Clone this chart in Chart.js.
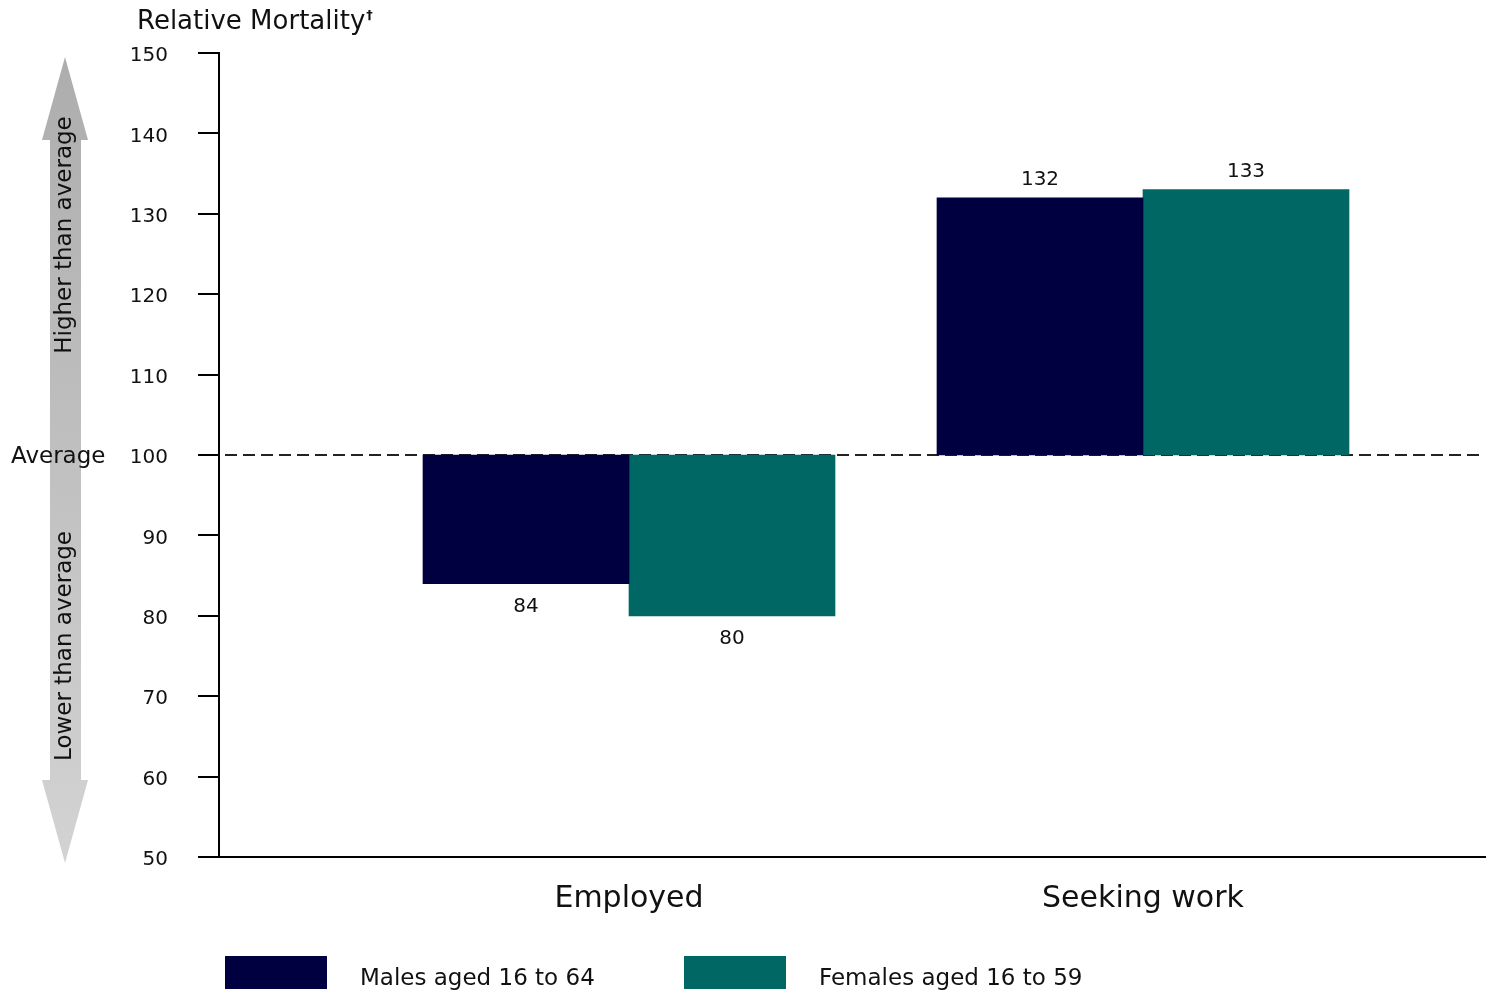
<!DOCTYPE html>
<html>
<head>
<meta charset="utf-8">
<script src="https://cdn.jsdelivr.net/npm/chart.js@4/dist/chart.umd.min.js"></script>
<style>
  html, body { margin: 0; padding: 0; background: #fff; }
  #wrap { width: 1493px; height: 993px; position: relative; }
</style>
</head>
<body>
<div id="wrap"><canvas id="mortalityChart"></canvas></div>
<script>
const CATEGORIES = ["Employed", "Seeking work"];
const MALES = [84, 132];
const FEMALES = [80, 133];
const BASELINE = 100;
const SERIES_LABELS = ["Males aged 16 to 64", "Females aged 16 to 59"];
const SERIES_COLORS = ["#000040", "#006764"];
const Y_MIN = 50;
const Y_MAX = 150;
const Y_STEP = 10;

const FONT = "'DejaVu Sans', sans-serif";

function toFloating(values) {
  return values.map((v, i) => ({ x: i, y: [BASELINE, v] }));
}

// arrow, title, average label and legend
const decorPlugin = {
  id: "decor",
  beforeDraw(chart) {
    const { ctx } = chart;
    const y = chart.scales.y;
    const top = y.getPixelForValue(Y_MAX) + 4;
    const bottom = y.getPixelForValue(Y_MIN) + 6;
    const cx = 65;

    ctx.save();
    const grad = ctx.createLinearGradient(0, top, 0, bottom);
    grad.addColorStop(0, "#adadad");
    grad.addColorStop(1, "#d3d3d3");
    ctx.fillStyle = grad;
    ctx.beginPath();
    ctx.moveTo(cx, top);
    ctx.lineTo(cx + 23, top + 83);
    ctx.lineTo(cx + 16, top + 83);
    ctx.lineTo(cx + 16, bottom - 83);
    ctx.lineTo(cx + 23, bottom - 83);
    ctx.lineTo(cx, bottom);
    ctx.lineTo(cx - 23, bottom - 83);
    ctx.lineTo(cx - 15, bottom - 83);
    ctx.lineTo(cx - 15, top + 83);
    ctx.lineTo(cx - 23, top + 83);
    ctx.closePath();
    ctx.fill();

    ctx.fillStyle = "#111";
    ctx.font = "23px " + FONT;
    ctx.textAlign = "center";
    ctx.textBaseline = "middle";
    ctx.save();
    ctx.translate(cx, 235);
    ctx.rotate(-Math.PI / 2);
    ctx.fillText("Higher than average", 0, 0);
    ctx.restore();
    ctx.save();
    ctx.translate(cx, 646);
    ctx.rotate(-Math.PI / 2);
    ctx.fillText("Lower than average", 0, 0);
    ctx.restore();

    ctx.textAlign = "left";
    ctx.fillText("Average", 11, y.getPixelForValue(BASELINE) + 2);

    // axis title
    ctx.font = "26px " + FONT;
    ctx.fillText("Relative Mortality", 137, 22);
    const w = ctx.measureText("Relative Mortality").width;
    ctx.font = "bold 13px " + FONT;
    ctx.fillText("\u2020", 137 + w + 1, 16);

    // legend
    const legendX = [225, 684];
    ctx.font = "23px " + FONT;
    chart.data.datasets.forEach((ds, i) => {
      ctx.fillStyle = ds.backgroundColor;
      ctx.fillRect(legendX[i], 956, 102, 33);
      ctx.fillStyle = "#111";
      ctx.fillText(ds.label, legendX[i] + 135, 979);
    });
    ctx.restore();
  },
  beforeDatasetsDraw(chart) {
    const { ctx, chartArea } = chart;
    const yy = chart.scales.y.getPixelForValue(BASELINE);
    ctx.save();
    ctx.strokeStyle = "#222";
    ctx.lineWidth = 2;
    ctx.setLineDash([12, 6]);
    ctx.beginPath();
    ctx.moveTo(chartArea.left + 6, yy);
    ctx.lineTo(chartArea.right, yy);
    ctx.stroke();
    ctx.restore();
  },
  afterDatasetsDraw(chart) {
    const { ctx } = chart;
    ctx.save();
    ctx.font = "20px " + FONT;
    ctx.fillStyle = "#111";
    ctx.textAlign = "center";
    ctx.textBaseline = "middle";
    chart.data.datasets.forEach((ds, di) => {
      const values = di === 0 ? MALES : FEMALES;
      chart.getDatasetMeta(di).data.forEach((bar, i) => {
        const v = values[i];
        const ty = v >= BASELINE
          ? Math.min(bar.y, bar.base) - 18
          : Math.max(bar.y, bar.base) + 23;
        ctx.fillText(String(v), bar.x, ty);
      });
    });
    ctx.restore();
  }
};

new Chart(document.getElementById("mortalityChart"), {
  type: "bar",
  data: {
    datasets: [
      {
        label: SERIES_LABELS[0],
        data: toFloating(MALES),
        backgroundColor: SERIES_COLORS[0],
        borderWidth: 0,
        barThickness: 206
      },
      {
        label: SERIES_LABELS[1],
        data: toFloating(FEMALES),
        backgroundColor: SERIES_COLORS[1],
        borderWidth: 0,
        barThickness: 206
      }
    ]
  },
  options: {
    responsive: true,
    maintainAspectRatio: false,
    animation: false,
    layout: { padding: { top: 53, right: 8, left: 0, bottom: 0 } },
    plugins: {
      legend: { display: false },
      tooltip: { enabled: false }
    },
    scales: {
      x: {
        type: "linear",
        offset: false,
        min: -0.7977,
        max: 1.6654,
        afterBuildTicks: (scale) => {
          scale.ticks = CATEGORIES.map((c, i) => ({ value: i }));
        },
        afterFit: (scale) => { scale.height = 136; },
        ticks: {
          callback: (v) => CATEGORIES[v],
          color: "#111",
          font: { family: FONT, size: 30 },
          padding: 16,
          maxRotation: 0,
          autoSkip: false
        },
        grid: { display: false, offset: false },
        border: { display: true, color: "#000", width: 2 }
      },
      y: {
        min: Y_MIN,
        max: Y_MAX,
        afterFit: (scale) => { scale.width = 219; },
        ticks: {
          stepSize: Y_STEP,
          color: "#111",
          font: { family: FONT, size: 20 },
          padding: 30,
          labelOffset: 3
        },
        grid: {
          drawOnChartArea: false,
          drawTicks: true,
          tickLength: 21,
          color: "#000",
          lineWidth: 2
        },
        border: { display: true, color: "#000", width: 2 }
      }
    }
  },
  plugins: [decorPlugin]
});
</script>
</body>
</html>
